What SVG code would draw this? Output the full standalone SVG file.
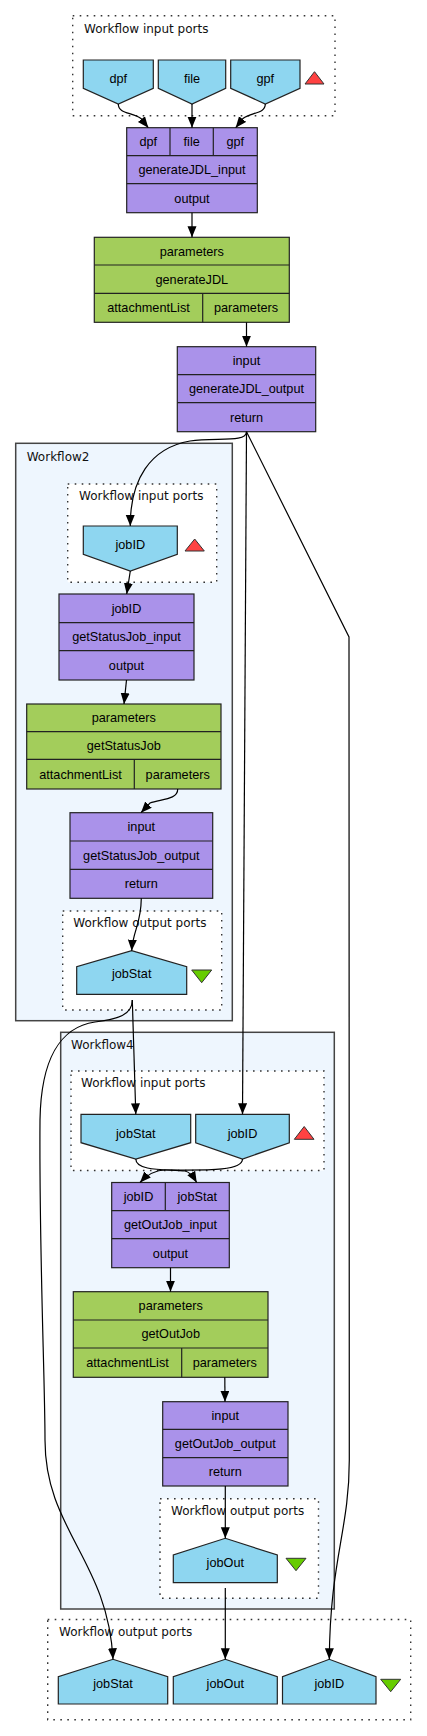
<svg xmlns="http://www.w3.org/2000/svg" width="427" height="1736" viewBox="0 0 427 1736">
<style>
.bg{fill:#ffffff}
.cl{fill:#eef6fe;stroke:#444;stroke-width:1.5}
.dot{fill:#ffffff;stroke:#333;stroke-width:1.4;stroke-dasharray:1.6 5.4}
.pu{fill:#aa92ea;stroke:#222;stroke-width:1.2}
.gr{fill:#a3cd5b;stroke:#222;stroke-width:1.2}
.po{fill:#8ed6f0;stroke:#222;stroke-width:1.2}
.ln{stroke:#222;stroke-width:1.2;fill:none}
.rt{fill:#ff4242;stroke:#333;stroke-width:1}
.gt{fill:#66cc00;stroke:#333;stroke-width:1}
.t{font-family:"Liberation Sans",Arial,sans-serif;font-size:12.7px;fill:#000;text-anchor:middle}
.ct{font-family:"DejaVu Sans",sans-serif;font-size:12px;fill:#111}
.e{fill:none;stroke:#000;stroke-width:1.2}
</style>
<defs>
<marker id="ah" markerUnits="userSpaceOnUse" markerWidth="12" markerHeight="10" refX="11" refY="4.5" orient="auto">
<path d="M0,0 L11,4.5 L0,9 z" fill="#000"/>
</marker>
</defs>
<rect class="bg" x="0" y="0" width="427" height="1736"/>

<g id="wf_inputs">
<rect class="dot" x="72.7" y="15.7" width="262.3" height="100"/>
<text class="ct" x="84" y="33">Workflow input ports</text>
<polygon class="rt" points="305,84 324,84 314.5,71.7"/>
</g>
<g id="in_dpf"><polygon class="po" points="83.3,60 153.3,60 153.3,88.3 118.3,104 83.3,88.3"/><text class="t" x="118.3" y="83">dpf</text></g>
<g id="in_file"><polygon class="po" points="158.3,60 225.7,60 225.7,88.3 192,104 158.3,88.3"/><text class="t" x="192" y="83">file</text></g>
<g id="in_gpf"><polygon class="po" points="230.7,60 300,60 300,88.3 265.3,104 230.7,88.3"/><text class="t" x="265.3" y="83">gpf</text></g>

<g id="generateJDL_input">
<rect class="pu" x="126.7" y="127.7" width="130.6" height="85"/>
<path class="ln" d="M126.7,155.7H257.3M126.7,183.7H257.3M170,127.7V155.7M213.3,127.7V155.7"/>
<text class="t" x="148.3" y="146">dpf</text><text class="t" x="191.7" y="146">file</text><text class="t" x="235.3" y="146">gpf</text>
<text class="t" x="192" y="174">generateJDL_input</text><text class="t" x="192" y="202.5">output</text>
</g>
<g id="generateJDL">
<rect class="gr" x="94.3" y="237.3" width="195" height="85"/>
<path class="ln" d="M94.3,265H289.3M94.3,293.3H289.3M202.7,293.3V322.3"/>
<text class="t" x="191.8" y="255.5">parameters</text><text class="t" x="191.8" y="283.5">generateJDL</text>
<text class="t" x="148.5" y="312">attachmentList</text><text class="t" x="246" y="312">parameters</text>
</g>
<g id="generateJDL_output">
<rect class="pu" x="177.3" y="346.7" width="138.4" height="85"/>
<path class="ln" d="M177.3,374.7H315.7M177.3,402.7H315.7"/>
<text class="t" x="246.5" y="365">input</text><text class="t" x="246.5" y="393">generateJDL_output</text><text class="t" x="246.5" y="421.5">return</text>
</g>

<g id="Workflow2">
<rect class="cl" x="15.7" y="443.3" width="216.6" height="577.4"/>
<text class="ct" x="26.7" y="460.7">Workflow2</text>
<rect class="dot" x="67.7" y="484" width="149" height="98.3"/>
<text class="ct" x="79" y="500">Workflow input ports</text>
<polygon class="rt" points="185,551 204.3,551 194.7,539"/>
<rect class="dot" x="62.7" y="911" width="159" height="99"/>
<text class="ct" x="73.3" y="927.3">Workflow output ports</text>
<polygon class="gt" points="191.7,970 211.7,970 201.7,982.7"/>
</g>
<g id="wf2_in_jobID"><polygon class="po" points="83.3,526 177.3,526 177.3,554.3 130.3,571 83.3,554.3"/><text class="t" x="130.3" y="549">jobID</text></g>
<g id="getStatusJob_input">
<rect class="pu" x="59" y="594" width="135" height="86"/>
<path class="ln" d="M59,622.7H194M59,650.7H194"/>
<text class="t" x="126.5" y="613">jobID</text><text class="t" x="126.5" y="641">getStatusJob_input</text><text class="t" x="126.5" y="670">output</text>
</g>
<g id="getStatusJob">
<rect class="gr" x="26.7" y="704" width="194.3" height="85"/>
<path class="ln" d="M26.7,731.7H221M26.7,759.3H221M134.3,759.3V789"/>
<text class="t" x="123.8" y="722.3">parameters</text><text class="t" x="123.8" y="750">getStatusJob</text>
<text class="t" x="80.5" y="778.5">attachmentList</text><text class="t" x="177.7" y="778.5">parameters</text>
</g>
<g id="getStatusJob_output">
<rect class="pu" x="70" y="812.7" width="142.7" height="85.6"/>
<path class="ln" d="M70,841H212.7M70,869.3H212.7"/>
<text class="t" x="141.3" y="831">input</text><text class="t" x="141.3" y="859.5">getStatusJob_output</text><text class="t" x="141.3" y="888">return</text>
</g>
<g id="wf2_out_jobStat"><polygon class="po" points="76.7,994.3 76.7,966.7 131.7,950.7 186.7,966.7 186.7,994.3"/><text class="t" x="131.7" y="978">jobStat</text></g>

<g id="Workflow4">
<rect class="cl" x="60.7" y="1032.3" width="273.6" height="576.7"/>
<text class="ct" x="71" y="1049">Workflow4</text>
<rect class="dot" x="71" y="1071" width="253" height="99.5"/>
<text class="ct" x="81" y="1087.3">Workflow input ports</text>
<polygon class="rt" points="294.3,1139.3 314,1139.3 304.2,1126.5"/>
<rect class="dot" x="160" y="1498.7" width="158.5" height="99.6"/>
<text class="ct" x="171" y="1515">Workflow output ports</text>
<polygon class="gt" points="286,1558.3 306,1558.3 296,1570.7"/>
</g>
<g id="wf4_in_jobStat"><polygon class="po" points="81,1114.3 190.7,1114.3 190.7,1142.7 135.8,1159 81,1142.7"/><text class="t" x="135.8" y="1137.5">jobStat</text></g>
<g id="wf4_in_jobID"><polygon class="po" points="195.7,1114.3 289.3,1114.3 289.3,1142.7 242.5,1159 195.7,1142.7"/><text class="t" x="242.5" y="1137.5">jobID</text></g>
<g id="getOutJob_input">
<rect class="pu" x="111.7" y="1182.5" width="117.6" height="85.2"/>
<path class="ln" d="M111.7,1210.7H229.3M111.7,1238.7H229.3M165.3,1182.5V1210.7"/>
<text class="t" x="138.5" y="1201">jobID</text><text class="t" x="197.3" y="1201">jobStat</text>
<text class="t" x="170.5" y="1229">getOutJob_input</text><text class="t" x="170.5" y="1257.5">output</text>
</g>
<g id="getOutJob">
<rect class="gr" x="73.3" y="1291.7" width="194.7" height="85.6"/>
<path class="ln" d="M73.3,1320H268M73.3,1348H268M181.7,1348V1377.3"/>
<text class="t" x="170.7" y="1310">parameters</text><text class="t" x="170.7" y="1338.3">getOutJob</text>
<text class="t" x="127.5" y="1367">attachmentList</text><text class="t" x="224.8" y="1367">parameters</text>
</g>
<g id="getOutJob_output">
<rect class="pu" x="162.7" y="1401.7" width="125.3" height="84.3"/>
<path class="ln" d="M162.7,1429.3H288M162.7,1457.7H288"/>
<text class="t" x="225.3" y="1420">input</text><text class="t" x="225.3" y="1448">getOutJob_output</text><text class="t" x="225.3" y="1476.3">return</text>
</g>
<g id="wf4_out_jobOut"><polygon class="po" points="173.3,1582.7 173.3,1555 225.3,1538.3 277.3,1555 277.3,1582.7"/><text class="t" x="225.3" y="1566.5">jobOut</text></g>

<g id="wf_outputs">
<rect class="dot" x="47.7" y="1619.5" width="363" height="100.2"/>
<text class="ct" x="59" y="1636">Workflow output ports</text>
<polygon class="gt" points="380.7,1679.3 400.7,1679.3 390.7,1691.7"/>
</g>
<g id="out_jobStat"><polygon class="po" points="58.3,1704 58.3,1676.7 113,1659.3 167.7,1676.7 167.7,1704"/><text class="t" x="113" y="1688">jobStat</text></g>
<g id="out_jobOut"><polygon class="po" points="173.3,1704 173.3,1676.7 225.3,1659.3 277.3,1676.7 277.3,1704"/><text class="t" x="225.3" y="1688">jobOut</text></g>
<g id="out_jobID"><polygon class="po" points="282.5,1704 282.5,1676.7 329.3,1659.3 376,1676.7 376,1704"/><text class="t" x="329.3" y="1688">jobID</text></g>

<g id="connectors">
<path class="e" marker-end="url(#ah)" d="M118.3,104 C118.3,114 132,112 141,118.5 L148.3,127.7"/>
<path class="e" marker-end="url(#ah)" d="M192,104 L192,127.7"/>
<path class="e" marker-end="url(#ah)" d="M265.3,104 C265.3,114 251,112 243,118.5 L235.7,127.7"/>
<path class="e" marker-end="url(#ah)" d="M192,212.7 L192,237.3"/>
<path class="e" marker-end="url(#ah)" d="M246.5,322.3 L246.5,346.7"/>
<path class="e" marker-end="url(#ah)" d="M246.5,431.7 C246.5,443 215,437 190,441 C150,448 130,480 130.3,526"/>
<path class="e" marker-end="url(#ah)" d="M246.5,431.7 L242.5,1114.3"/>
<path class="e" marker-end="url(#ah)" d="M246.5,431.7 L349,637 L349.3,1460 C349.3,1530 330,1560 329.3,1659.3"/>
<path class="e" marker-end="url(#ah)" d="M130.3,571 L126.7,594"/>
<path class="e" marker-end="url(#ah)" d="M126.5,680 L124,704"/>
<path class="e" marker-end="url(#ah)" d="M177.7,789 C178,800 160,799 150,803 L141,812.7"/>
<path class="e" marker-end="url(#ah)" d="M141.3,898.3 C141,925 133,930 131.7,950.7"/>
<path class="e" marker-end="url(#ah)" d="M132.3,1000 L135.8,1114.3"/>
<path class="e" marker-end="url(#ah)" d="M132.3,1000 C132.3,1015 118,1019 95,1022 C60,1027 41,1060 40,1120 C39,1250 45,1380 45,1440 C45,1530 108,1560 113,1659.3"/>
<path class="e" marker-end="url(#ah)" d="M135.8,1159 C135.8,1172 170,1169 185,1171 C190,1172 193,1176 196.7,1182.5"/>
<path class="e" marker-end="url(#ah)" d="M242.5,1159 C242.5,1172 200,1170 165,1170 C155,1170 148,1174 140,1182.5"/>
<path class="e" marker-end="url(#ah)" d="M170.5,1267.7 L170.5,1291.7"/>
<path class="e" marker-end="url(#ah)" d="M224.8,1377.3 L225,1401.7"/>
<path class="e" marker-end="url(#ah)" d="M225.3,1486 L225.3,1538.3"/>
<path class="e" marker-end="url(#ah)" d="M225.3,1588 L225.3,1659.3"/>
</g>
</svg>
